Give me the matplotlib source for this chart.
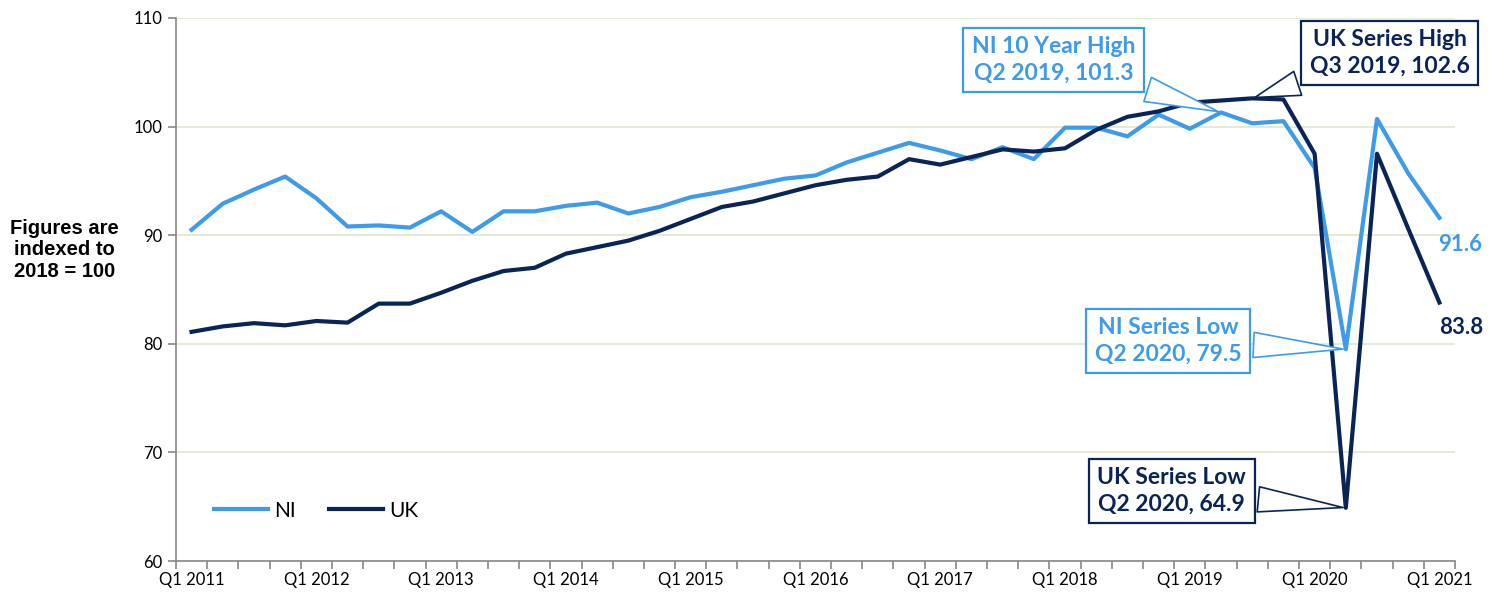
import numpy as np
import matplotlib
matplotlib.use("Agg")
import matplotlib.pyplot as plt

# quarters Q1 2011 .. Q1 2021
quarters = [f"Q{q} {y}" for y in range(2011, 2022) for q in range(1, 5)][:41]

ni = [90.5, 92.9, 94.2, 95.4, 93.4, 90.8, 90.9, 90.7, 92.2, 90.3,
      92.2, 92.2, 92.7, 93.0, 92.0, 92.6, 93.5, 94.0, 94.6, 95.2,
      95.5, 96.7, 97.6, 98.5, 97.8, 97.0, 98.1, 97.0, 99.9, 99.9,
      99.1, 101.1, 99.8, 101.3, 100.3, 100.5, 96.2, 79.5, 100.7, 95.7,
      91.6]
uk = [81.1, 81.6, 81.9, 81.7, 82.1, 81.95, 83.7, 83.7, 84.7, 85.8,
      86.7, 87.0, 88.3, 88.9, 89.5, 90.4, 91.5, 92.6, 93.1, 93.85,
      94.6, 95.1, 95.4, 97.0, 96.5, 97.2, 97.9, 97.7, 98.0, 99.7,
      100.9, 101.4, 102.2, 102.4, 102.6, 102.5, 97.5, 64.9, 97.5, 90.6,
      83.8]

NI_COL = "#3d9be9"
UK_COL = "#0a2458"
FONT = "Lato"

fig = plt.figure(figsize=(15, 5.99), dpi=100)
ax = fig.add_axes([0.1173, 0.0634, 0.8527, 0.9066])

x = np.arange(len(quarters))
ax.plot(x, ni, color=NI_COL, lw=3, label="NI", zorder=3)
ax.plot(x, uk, color=UK_COL, lw=3, label="UK", zorder=3)

ax.set_xlim(-0.5, len(quarters) - 0.5)
ax.set_ylim(60, 110)
ax.set_yticks(range(60, 111, 10))
ax.yaxis.grid(True, color="#dfe6cc", lw=1.2)
ax.set_axisbelow(True)

ax.set_xticks(x[::4])
ax.set_xticklabels(quarters[::4])
ax.set_xticks(np.arange(-0.5, len(quarters), 1), minor=True)
ax.tick_params(axis="x", which="major", length=0, pad=8, labelsize=12)
ax.tick_params(axis="x", which="minor", length=6, color="#888888", width=1.2)
ax.tick_params(axis="y", length=6, color="#888888", width=1.2, labelsize=12, pad=4)
for lab in ax.get_xticklabels() + ax.get_yticklabels():
    lab.set_family(FONT)

for s in ["top", "right"]:
    ax.spines[s].set_visible(False)
for s in ["left", "bottom"]:
    ax.spines[s].set_color("#888888")
    ax.spines[s].set_linewidth(1.2)

fig.text(0.043, 0.583, "Figures are\nindexed to\n2018 = 100", ha="center", va="center",
         fontsize=14.5, fontweight="bold", family="Liberation Sans", linespacing=1.15)

leg = ax.legend(loc="lower left", bbox_to_anchor=(0.015, 0.04), frameon=False, ncol=2,
                handlelength=2.6, handletextpad=0.3, columnspacing=1.6,
                prop={"family": FONT, "size": 15})


def callout(text, pt, pos, col):
    ax.annotate(text, xy=pt, xytext=pos, ha="center", va="center",
                color=col, fontsize=16.5, fontweight="bold", family=FONT,
                linespacing=1.3, zorder=5,
                bbox=dict(boxstyle="square,pad=0.38", fc="white", ec=col, lw=1.6),
                arrowprops=dict(arrowstyle="wedge,tail_width=1.1,shrink_factor=0.5",
                                fc="white", ec=col, lw=1.2))


callout("NI 10 Year High\nQ2 2019, 101.3", (33, ni[33]), (27.64, 106.13), NI_COL)
callout("UK Series High\nQ3 2019, 102.6", (34, uk[34]), (38.41, 106.78), UK_COL)
callout("NI Series Low\nQ2 2020, 79.5", (37, ni[37]), (31.3, 80.26), NI_COL)
callout("UK Series Low\nQ2 2020, 64.9", (37, uk[37]), (31.42, 66.45), UK_COL)

ax.annotate(f"{ni[-1]}", xy=(40, ni[-1]), xytext=(15, -19), textcoords="offset points",
            ha="center", va="center", color=NI_COL, fontsize=16, fontweight="bold",
            family=FONT, annotation_clip=False)
ax.annotate(f"{uk[-1]}", xy=(40, uk[-1]), xytext=(16, -18), textcoords="offset points",
            ha="center", va="center", color=UK_COL, fontsize=16, fontweight="bold",
            family=FONT, annotation_clip=False)

fig.savefig("out.png", dpi=100)
